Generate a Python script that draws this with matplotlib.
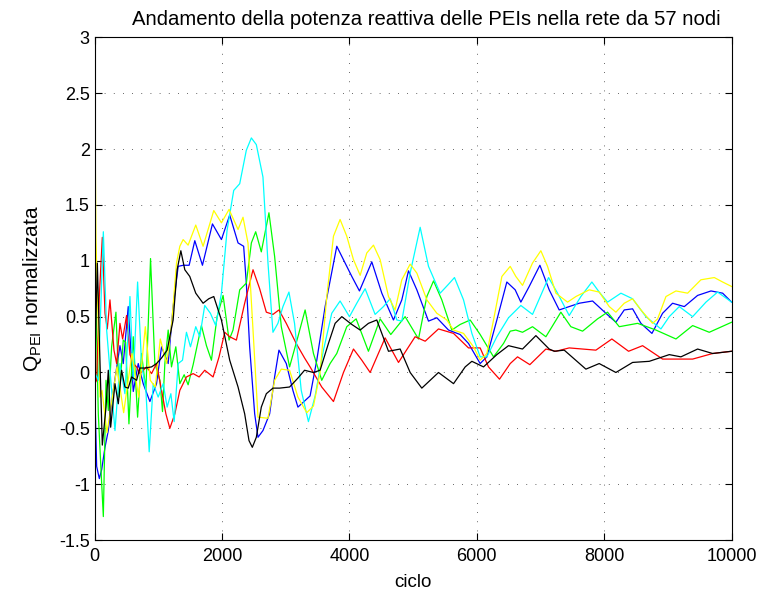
import matplotlib
matplotlib.use('Agg')
import matplotlib.pyplot as plt

# cycle / value pairs
yellow_x = [0, 20, 84, 115, 193, 350, 455, 586, 690, 795, 873, 951, 1030, 1130, 1209, 1285, 1337,
            1389, 1467, 1587, 1702, 1870, 1990, 2110, 2251, 2329, 2407, 2486, 2564, 2721, 2825,
            2930, 3060, 3191, 3330, 3435, 3539, 3644, 3749, 3853, 3958, 4063, 4168, 4272, 4377,
            4482, 4613, 4717, 4822, 4953, 5058, 5215, 5372, 5529, 5634, 5791, 5948, 6052, 6157,
            6262, 6393, 6524, 6612, 6717, 6874, 7005, 7110, 7241, 7424, 7555, 7764, 7921, 8079,
            8183, 8314, 8445, 8576, 8759, 8838, 8969, 9126, 9309, 9518, 9728, 9859, 10000]
yellow_y = [2.64, 1.2, -0.22, -0.16, -0.54, 0.05, -0.36, 0.17, -0.22, 0.41, -0.07, -0.13, 0.30, 0.08,
            0.44, 0.98, 1.13, 1.19, 1.14, 1.32, 1.13, 1.45, 1.34, 1.46, 1.28, 1.39, 1.16, 0.38,
            -0.40, -0.41, -0.07, 0.03, 0.02, -0.22, -0.36, -0.30, 0.0, 0.68, 1.22, 1.37, 1.22,
            1.01, 0.87, 1.07, 1.14, 1.01, 0.68, 0.56, 0.83, 0.97, 0.89, 0.65, 0.53, 0.47, 0.38,
            0.35, 0.23, 0.11, 0.17, 0.47, 0.86, 0.95, 0.86, 0.78, 0.98, 1.09, 0.95, 0.71, 0.63,
            0.68, 0.74, 0.72, 0.59, 0.54, 0.62, 0.66, 0.56, 0.44, 0.48, 0.68, 0.73, 0.71, 0.83,
            0.85, 0.81, 0.77]

blue_x = [0, 31, 73, 110, 162, 214, 292, 397, 449, 527, 606, 684, 762, 867, 971, 1050, 1154,
          1232, 1311, 1389, 1483, 1572, 1692, 1849, 1990, 2120, 2251, 2339, 2381, 2433, 2512,
          2564, 2642, 2747, 2825, 2893, 3008, 3112, 3191, 3382, 3487, 3618, 3801, 3932, 4037,
          4157, 4351, 4508, 4691, 4822, 4927, 5058, 5241, 5372, 5555, 5738, 5869, 6052, 6157,
          6314, 6471, 6602, 6691, 6822, 6990, 7136, 7293, 7450, 7607, 7817, 8026, 8183, 8314,
          8445, 8576, 8749, 8916, 9073, 9257, 9466, 9676, 9859, 10000]
blue_y = [-0.1, -0.84, -0.95, -0.87, -0.67, -0.52, -0.16, 0.24, 0.08, 0.59, -0.17, 0.08, -0.10,
          -0.26, -0.10, 0.23, 0.08, 0.59, 0.95, 0.96, 0.96, 1.18, 0.96, 1.33, 1.19, 1.41, 1.16,
          1.13, 0.80, 0.23, -0.37, -0.58, -0.52, -0.37, -0.04, 0.20, 0.08, -0.16, -0.31, -0.21,
          0.11, 0.59, 1.13, 0.98, 0.86, 0.73, 0.99, 0.71, 0.47, 0.65, 0.91, 0.74, 0.46, 0.49,
          0.38, 0.34, 0.26, 0.08, 0.14, 0.47, 0.81, 0.74, 0.63, 0.77, 0.96, 0.74, 0.56, 0.59,
          0.62, 0.64, 0.53, 0.45, 0.56, 0.57, 0.44, 0.35, 0.53, 0.62, 0.59, 0.69, 0.73, 0.71, 0.63]

cyan_x = [0, 57, 136, 188, 240, 319, 397, 475, 554, 606, 674, 736, 804, 856, 919, 997, 1076,
          1138, 1196, 1248, 1311, 1379, 1441, 1504, 1587, 1650, 1728, 1817, 1901, 1990, 2078,
          2183, 2277, 2381, 2460, 2538, 2642, 2721, 2799, 2877, 2956, 3050, 3138, 3243, 3356,
          3461, 3592, 3722, 3853, 4000, 4115, 4246, 4403, 4534, 4639, 4744, 4822, 4953, 5110,
          5241, 5424, 5555, 5649, 5791, 5922, 6052, 6157, 6314, 6497, 6691, 6874, 7126, 7267,
          7450, 7633, 7806, 7921, 8052, 8262, 8445, 8654, 8890, 9021, 9178, 9388, 9597, 9780, 10000]
cyan_y = [0.0, -0.07, 1.26, 0.38, 0.02, -0.52, 0.08, -0.19, 0.68, -0.07, 0.81, 0.08, -0.16, -0.71,
          -0.10, -0.22, -0.10, -0.31, -0.19, -0.44, 0.08, 0.11, 0.36, 0.23, 0.41, 0.32, 0.60, 0.53,
          0.42, 0.71, 1.27, 1.63, 1.69, 1.99, 2.10, 2.04, 1.75, 0.98, 0.36, 0.44, 0.59, 0.72, 0.44,
          -0.16, -0.44, -0.21, 0.20, 0.53, 0.64, 0.50, 0.62, 0.75, 0.52, 0.59, 0.66, 0.47, 0.46,
          0.89, 1.30, 0.95, 0.71, 0.79, 0.85, 0.65, 0.35, 0.14, 0.14, 0.32, 0.49, 0.60, 0.52, 0.85,
          0.71, 0.51, 0.68, 0.81, 0.72, 0.63, 0.71, 0.66, 0.50, 0.39, 0.50, 0.59, 0.50, 0.63, 0.72,
          0.63]

green_x = [0, 20, 57, 94, 136, 178, 214, 266, 334, 386, 449, 486, 538, 606, 674, 736, 804, 877,
           945, 1024, 1065, 1102, 1154, 1206, 1274, 1337, 1405, 1467, 1546, 1676, 1755, 1833, 1922,
           2016, 2110, 2172, 2277, 2381, 2460, 2528, 2616, 2736, 2825, 2930, 3060, 3191, 3304,
           3435, 3565, 3696, 3801, 3958, 4105, 4298, 4482, 4649, 4874, 5084, 5215, 5320, 5450,
           5607, 5738, 5895, 6052, 6262, 6419, 6524, 6612, 6717, 6874, 7084, 7319, 7476, 7660,
           7895, 8052, 8236, 8524, 8812, 9126, 9388, 9649, 10000]
green_y = [1.9, 0.6, -0.37, -0.81, -1.29, -0.07, -0.34, 0.23, 0.54, -0.22, 0.29, 0.27, -0.46, 0.32,
           -0.40, 0.17, -0.16, 1.02, 0.08, -0.07, -0.35, 0.08, 0.38, 0.05, 0.23, -0.10, -0.02,
           -0.11, 0.07, 0.42, 0.24, 0.11, 0.50, 0.69, 0.29, 0.38, 0.74, 0.80, 1.16, 1.26, 1.08,
           1.43, 1.04, 0.41, 0.05, 0.32, 0.56, 0.17, -0.07, 0.08, 0.17, 0.41, 0.48, 0.19, 0.48,
           0.34, 0.50, 0.30, 0.68, 0.82, 0.65, 0.38, 0.43, 0.47, 0.34, 0.14, 0.26, 0.37, 0.38,
           0.36, 0.41, 0.32, 0.54, 0.41, 0.37, 0.48, 0.54, 0.41, 0.44, 0.38, 0.30, 0.42, 0.36, 0.45]

red_x = [0, 31, 73, 120, 162, 198, 240, 303, 345, 397, 439, 501, 554, 606, 658, 710, 815, 893,
         971, 1050, 1118, 1180, 1259, 1337, 1441, 1546, 1640, 1728, 1859, 1953, 2042, 2120, 2225,
         2355, 2486, 2590, 2695, 2799, 2893, 3008, 3164, 3295, 3382, 3565, 3749, 3906, 4063, 4194,
         4325, 4560, 4770, 5031, 5189, 5398, 5634, 5869, 6052, 6183, 6356, 6524, 6639, 6832,
         7084, 7241, 7450, 7869, 8120, 8382, 8602, 8916, 9388, 9702, 10000]
red_y = [-0.1, -0.07, 0.68, 1.21, 0.53, 0.39, 0.65, 0.20, 0.08, 0.44, 0.30, 0.51, 0.16, 0.08, 0.05,
         -0.01, 0.05, -0.01, 0.08, -0.16, -0.37, -0.50, -0.37, -0.16, -0.04, -0.01, -0.04, 0.02,
         -0.04, 0.14, 0.36, 0.32, 0.29, 0.62, 0.92, 0.75, 0.54, 0.52, 0.56, 0.44, 0.26, 0.13,
         0.05, -0.13, -0.26, 0.0, 0.21, 0.11, 0.0, 0.31, 0.09, 0.32, 0.28, 0.39, 0.35, 0.22, 0.22,
         0.05, -0.06, 0.08, 0.14, 0.07, 0.21, 0.19, 0.22, 0.20, 0.30, 0.19, 0.24, 0.12, 0.12,
         0.17, 0.19]

black_x = [0, 42, 84, 120, 178, 214, 251, 319, 371, 423, 475, 527, 580, 658, 710, 789, 893, 971,
           1050, 1138, 1232, 1295, 1353, 1415, 1493, 1587, 1702, 1791, 1870, 1990, 2120, 2251,
           2355, 2423, 2475, 2538, 2616, 2695, 2799, 2903, 3060, 3191, 3295, 3435, 3539, 3670,
           3775, 3880, 4037, 4168, 4298, 4429, 4613, 4796, 4953, 5136, 5398, 5634, 5817, 5922,
           6105, 6314, 6497, 6717, 6927, 7136, 7215, 7372, 7712, 7921, 8183, 8445, 8707, 9021,
           9204, 9466, 9702, 10000]
black_y = [0.0, 0.98, 0.08, -0.65, -0.31, 0.02, -0.49, -0.10, -0.28, 0.02, -0.13, -0.14, -0.04,
           -0.07, 0.04, 0.04, 0.05, 0.08, 0.13, 0.20, 0.47, 0.92, 1.09, 0.92, 0.86, 0.71, 0.62,
           0.66, 0.68, 0.47, 0.11, -0.13, -0.37, -0.61, -0.67, -0.58, -0.31, -0.19, -0.14, -0.14,
           -0.13, -0.05, 0.02, 0.0, 0.02, 0.26, 0.44, 0.50, 0.43, 0.38, 0.44, 0.47, 0.19, 0.21,
           0.0, -0.14, 0.0, -0.10, 0.05, 0.10, 0.05, 0.16, 0.24, 0.21, 0.33, 0.21, 0.19, 0.20,
           0.03, 0.08, 0.0, 0.09, 0.10, 0.16, 0.14, 0.21, 0.17, 0.19]

plt.rcParams['font.family'] = ['Liberation Sans', 'DejaVu Sans']
plt.rcParams['mathtext.fontset'] = 'custom'
plt.rcParams['mathtext.rm'] = 'Liberation Sans'
plt.rcParams['axes.unicode_minus'] = False

fig = plt.figure(figsize=(7.61, 5.92), dpi=100)
ax = fig.add_axes([0.1244, 0.0878, 0.837, 0.849])

lw = 0.9
ax.plot(blue_x, blue_y, color='#0000ff', linewidth=lw)
ax.plot(green_x, green_y, color='#00ff00', linewidth=lw)
ax.plot(red_x, red_y, color='#ff0000', linewidth=lw)
ax.plot(cyan_x, cyan_y, color='#00ffff', linewidth=lw)
ax.plot(yellow_x, yellow_y, color='#ffff00', linewidth=lw)
ax.plot(black_x, black_y, color='#000000', linewidth=lw)

ax.set_xlim(0, 10000)
ax.set_ylim(-1.5, 3)
ax.set_xticks([0, 2000, 4000, 6000, 8000, 10000])
ax.set_yticks([-1.5, -1, -0.5, 0, 0.5, 1, 1.5, 2, 2.5, 3])
ax.set_yticklabels(['-1.5', '-1', '-0.5', '0', '0.5', '1', '1.5', '2', '2.5', '3'])
ax.grid(True, linestyle=(0, (1, 10)), color='#333333', linewidth=0.6)
ax.tick_params(direction='in', top=True, right=True, labelsize=13, length=5, width=0.8)
ax.tick_params(axis='x', pad=6)
for s in ax.spines.values():
    s.set_linewidth(0.8)

ax.set_xlabel('ciclo', fontsize=13.5, labelpad=6)
ax.set_ylabel(r'Q$_{\mathrm{PEI}}$ normalizzata', fontsize=15, labelpad=11)
ax.set_title('Andamento della potenza reattiva delle PEIs nella rete da 57 nodi',
             fontsize=14.6, pad=9, x=0.52)

fig.savefig('out.png', dpi=100)
